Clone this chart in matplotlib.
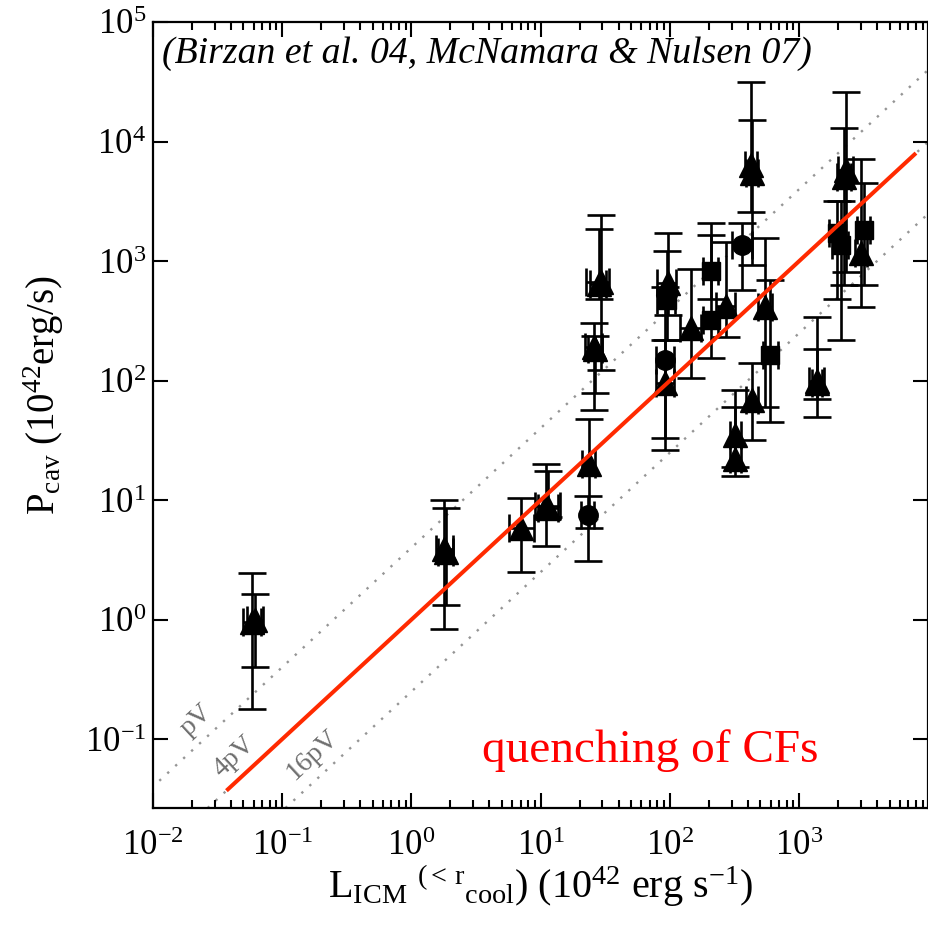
import numpy as np
import matplotlib
matplotlib.use("Agg")
import matplotlib.pyplot as plt
from matplotlib.ticker import FixedLocator, FixedFormatter, LogLocator, NullLocator

plt.rcParams["font.family"] = ["Liberation Serif", "DejaVu Serif"]
plt.rcParams["mathtext.fontset"] = "custom"
plt.rcParams["mathtext.rm"] = "Liberation Serif"
plt.rcParams["mathtext.it"] = "Liberation Serif:italic"
plt.rcParams["mathtext.bf"] = "Liberation Serif:bold"

# ---- cavity power vs. cooling luminosity (10^42 erg/s) ----
# triangles
tri_L    = [0.058, 0.061, 1.80, 1.85, 7.0, 11.0, 11.3, 23.7, 29.0, 28.0, 26.0, 26.5,
            96.0, 92.0, 145.0, 270.0, 420.0, 430.0, 548.0, 432.0, 321.0, 321.0,
            1365.0, 1380.0, 2280.0, 2200.0, 3000.0]
tri_P    = [0.95, 1.0, 3.9, 3.7, 5.8, 9.0, 8.6, 20.0, 670.0, 640.0, 192.0, 185.0,
            650.0, 95.0, 275.0, 420.0, 6300.0, 5500.0, 410.0, 69.0, 35.0, 22.0,
            100.0, 95.0, 5800.0, 5000.0, 1170.0]
tri_P_lo = [0.18, 0.40, 0.83, 1.32, 2.5, 4.1, 7.2, 5.8, 123.0, 485.0, 57.0, 79.0,
            355.0, 26.0, 105.0, 230.0, 2580.0, 935.0, 60.0, 32.0, 19.0, 16.0,
            50.0, 70.0, 810.0, 630.0, 415.0]
tri_P_hi = [2.44, 1.63, 10.0, 8.6, 10.5, 20.0, 17.6, 48.0, 2430.0, 1870.0, 303.0, 235.0,
            1700.0, 218.0, 860.0, 1450.0, 31600.0, 15100.0, 1550.0, 139.0, 83.0, 60.0,
            340.0, 182.0, 26000.0, 12900.0, 7200.0]
tri_L_lo = [0.050, 0.053, 1.55, 1.60, 5.7, 9.0, 9.5, 21.0, 22.4, 24.0, 22.0, 23.0,
            80.0, 78.0, 120.0, 225.0, 380.0, 390.0, 480.0, 390.0, 290.0, 290.0,
            1200.0, 1250.0, 2000.0, 1950.0, 2700.0]
tri_L_hi = [0.068, 0.071, 2.10, 2.10, 8.8, 14.0, 13.5, 26.5, 33.8, 32.0, 30.0, 30.0,
            112.0, 108.0, 175.0, 320.0, 470.0, 480.0, 620.0, 480.0, 355.0, 355.0,
            1550.0, 1500.0, 2600.0, 2500.0, 3350.0]

# squares
sq_L    = [94.0, 206.0, 206.0, 598.0, 1950.0, 3150.0, 2100.0]
sq_P    = [470.0, 830.0, 321.0, 165.0, 1700.0, 1820.0, 1350.0]
sq_P_lo = [218.0, 480.0, 154.0, 45.0, 485.0, 630.0, 218.0]
sq_P_hi = [1220.0, 2090.0, 1660.0, 700.0, 3150.0, 4500.0, 3150.0]
sq_L_lo = [80.0, 180.0, 180.0, 520.0, 1700.0, 2800.0, 1800.0]
sq_L_hi = [110.0, 235.0, 235.0, 690.0, 2250.0, 3500.0, 2400.0]

# circles
circ_L    = [23.2, 92.0, 361.0]
circ_P    = [7.5, 148.0, 1350.0]
circ_P_lo = [3.1, 33.0, 575.0]
circ_P_hi = [10.9, 610.0, 2100.0]
circ_L_lo = [20.5, 78.0, 300.0]
circ_L_hi = [26.0, 108.0, 430.0]

# enthalpy reference lines: P_cav = f * L_ICM
ref_factors = [4.0, 1.0, 0.25]
ref_labels = ["pV", "4pV", "16pV"]
# fitted relation shown in red
fit_L = [0.037, 8000.0]

xtick_vals = [1e-2, 1e-1, 1e0, 1e1, 1e2, 1e3]
xtick_labels = ["10$^{-2}$", "10$^{-1}$", "10$^{0}$", "10$^{1}$", "10$^{2}$", "10$^{3}$"]
ytick_vals = [1e-1, 1e0, 1e1, 1e2, 1e3, 1e4, 1e5]
ytick_labels = ["10$^{-1}$", "10$^{0}$", "10$^{1}$", "10$^{2}$", "10$^{3}$", "10$^{4}$", "10$^{5}$"]

fig = plt.figure(figsize=(9.29, 9.25), dpi=100)
ax = fig.add_axes([153 / 929, 1 - 808 / 925, (928.5 - 153) / 929, (808 - 22) / 925])
ax.set_xscale("log")
ax.set_yscale("log")
ax.set_xlim(1e-2, 1e4)
ax.set_ylim(0.0265, 1e5)

# dotted pV lines
xx = np.array([1e-3, 1e5])
for f in ref_factors:
    ax.plot(xx, f * xx, color="#959595", lw=1.7, ls=(0, (1, 3.6)), zorder=1)

# red relation
fl = np.array(fit_L)
ax.plot(fl, fl, color="#ff2a00", lw=2.9, zorder=5, solid_capstyle="butt")


def draw(L, P, Plo, Phi, Llo, Lhi, marker, ms):
    L = np.asarray(L); P = np.asarray(P)
    yerr = [P - np.asarray(Plo), np.asarray(Phi) - P]
    xerr = [L - np.asarray(Llo), np.asarray(Lhi) - L]
    ax.errorbar(L, P, xerr=xerr, yerr=yerr, fmt=marker, ms=ms, color="black",
                mfc="black", mec="black", ecolor="black", elinewidth=1.9,
                capsize=10, capthick=1.9, zorder=3)


draw(tri_L, tri_P, tri_P_lo, tri_P_hi, tri_L_lo, tri_L_hi, "^", 17)
draw(sq_L, sq_P, sq_P_lo, sq_P_hi, sq_L_lo, sq_L_hi, "s", 13)
draw(circ_L, circ_P, circ_P_lo, circ_P_hi, circ_L_lo, circ_L_hi, "o", 14)

# ticks
ax.xaxis.set_major_locator(FixedLocator(xtick_vals))
ax.xaxis.set_major_formatter(FixedFormatter(xtick_labels))
ax.xaxis.set_minor_locator(LogLocator(base=10, subs=np.arange(2, 10), numticks=20))
ax.yaxis.set_major_locator(FixedLocator(ytick_vals))
ax.yaxis.set_major_formatter(FixedFormatter(ytick_labels))
ax.yaxis.set_minor_locator(NullLocator())
ax.tick_params(which="both", direction="in", top=True, right=True, width=1.5)
ax.tick_params(which="major", length=11, labelsize=25)
ax.tick_params(axis="x", which="major", pad=16)
ax.tick_params(axis="y", which="major", pad=5)
ax.tick_params(which="minor", length=6)
for s in ax.spines.values():
    s.set_linewidth(1.6)

ax.set_xlabel(r"L$_{\rm ICM}$ $^{(<\,{\rm r}}$$_{\rm cool}$) (10$^{42}$ erg s$^{-1}$)",
              fontsize=29, labelpad=0)
ax.set_ylabel(r"P$_{\rm cav}$ (10$^{42}$erg/s)", fontsize=28)
ax.yaxis.set_label_coords(-0.112, 0.525)

ax.text(0.012, 0.982, "(Birzan et al. 04, McNamara & Nulsen 07)", transform=ax.transAxes,
        fontsize=27.2, style="italic", ha="left", va="top", zorder=6)
ax.text(0.424, 0.0585, "quenching of CFs", transform=ax.transAxes, fontsize=34,
        color="#ff0000", ha="left", va="baseline", zorder=6)

label_pos = [(0.056, 0.112), (0.105, 0.066), (0.206, 0.068)]
for (px, py), lab in zip(label_pos, ref_labels):
    ax.text(px, py, lab, transform=ax.transAxes, fontsize=20, color="#6e6e6e",
            rotation=43, ha="center", va="center", zorder=2)

fig.savefig("out.png", dpi=100)
